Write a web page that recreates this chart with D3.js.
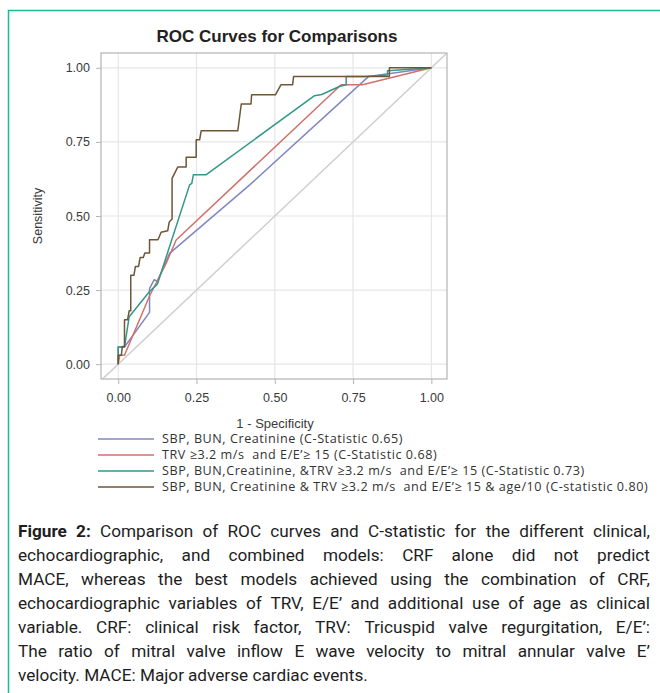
<!DOCTYPE html>
<html>
<head>
<meta charset="utf-8">
<script src="https://cdn.jsdelivr.net/npm/d3@7"></script>
<style>
  body { margin: 0; background: #fff; }
  svg { display: block; }
  text { white-space: pre; }
</style>
</head>
<body>
<div id="chart"></div>
<script>

// values
const ticks = [0, 0.25, 0.5, 0.75, 1]

const labels = [
    'SBP, BUN, Creatinine (C-Statistic 0.65)',
    'TRV \u22653.2 m/s  and E/E\u2019\u2265 15 (C-Statistic 0.68)',
    'SBP, BUN,Creatinine, &TRV \u22653.2 m/s  and E/E\u2019\u2265 15 (C-Statistic 0.73)',
    'SBP, BUN, Creatinine & TRV \u22653.2 m/s  and E/E\u2019\u2265 15 & age/10 (C-statistic 0.80)'
]

const colors = ['#8087c2', '#d0716a', '#33978a', '#6e5638']

// [1 - specificity, sensitivity]
const crfRoc = [[0,0],[0,0.058],[0.02,0.058],[0.1,0.175],[0.1,0.255],[0.115,0.285],[0.125,0.28],
    [0.164,0.374],[0.42,0.605],[0.8,0.971],[1,1]]

const echoRoc = [[0,0],[0.005,0.03],[0.02,0.03],[0.1,0.23],[0.126,0.284],[0.153,0.34],[0.185,0.419],
    [0.712,0.943],[0.78,0.943],[1,1]]

const comboRoc = [[0,0],[0,0.058],[0.02,0.058],[0.035,0.16],[0.1,0.245],[0.125,0.27],[0.228,0.605],
    [0.235,0.61],[0.24,0.639],[0.28,0.639],[0.627,0.906],[0.65,0.91],[0.706,0.937],[0.728,0.943],
    [0.728,0.971],[0.79,0.971],[0.86,0.976],[0.86,0.99],[1,1]]

const ageRoc = [[0,0],[0,0.03],[0.01,0.03],[0.013,0.06],[0.02,0.06],[0.02,0.15],[0.03,0.15],[0.035,0.18],
    [0.04,0.18],[0.04,0.3],[0.05,0.3],[0.055,0.33],[0.065,0.33],[0.07,0.36],[0.08,0.36],[0.085,0.375],
    [0.1,0.375],[0.1,0.42],[0.127,0.42],[0.137,0.445],[0.158,0.45],[0.163,0.48],[0.172,0.49],
    [0.172,0.627],[0.19,0.665],[0.217,0.665],[0.217,0.698],[0.249,0.698],[0.249,0.757],[0.26,0.757],
    [0.265,0.788],[0.382,0.788],[0.393,0.878],[0.424,0.878],[0.426,0.909],[0.502,0.909],[0.52,0.943],
    [0.557,0.943],[0.56,0.971],[0.866,0.971],[0.866,1],[1,1]]

const captionLines = [
    'Figure 2: Comparison of ROC curves and C-statistic for the different clinical,',
    'echocardiographic, and combined models: CRF alone did not predict',
    'MACE, whereas the best models achieved using the combination of CRF,',
    'echocardiographic variables of TRV, E/E\u2019 and additional use of age as clinical',
    'variable. CRF: clinical risk factor, TRV: Tricuspid valve regurgitation, E/E\u2019:',
    'The ratio of mitral valve inflow E wave velocity to mitral annular valve E\u2019',
    'velocity. MACE: Major adverse cardiac events.'
]

const width = 660
const height = 693

const svg = d3.select('#chart')
    .append('svg')
    .attr('width', width)
    .attr('height', height)

// teal frame round the whole figure
svg.append('rect')
    .attr('x', 8.5).attr('y', 10.5)
    .attr('width', 700).attr('height', 720)
    .attr('fill', 'none')
    .attr('stroke', '#19b99a')
    .attr('stroke-width', 1.5)

const frame = { left: 101, right: 447, top: 53, bottom: 379 }

const x = d3.scaleLinear().domain([-0.055, 1.05]).range([frame.left, frame.right])
const y = d3.scaleLinear().domain([-0.05, 1.05]).range([frame.bottom, frame.top])

svg.append('clipPath').attr('id', 'clip')
    .append('rect')
    .attr('x', frame.left).attr('y', frame.top)
    .attr('width', frame.right - frame.left).attr('height', frame.bottom - frame.top)

// grid
const grid = svg.append('g')
grid.selectAll('.gx').data(ticks).join('line')
    .attr('x1', d => x(d)).attr('x2', d => x(d))
    .attr('y1', frame.top).attr('y2', frame.bottom)
    .attr('stroke', '#e6e6e6').attr('stroke-width', 1.2)
grid.selectAll('.gy').data(ticks).join('line')
    .attr('y1', d => y(d)).attr('y2', d => y(d))
    .attr('x1', frame.left).attr('x2', frame.right)
    .attr('stroke', '#e6e6e6').attr('stroke-width', 1.2)

// reference diagonal
svg.append('line')
    .attr('clip-path', 'url(#clip)')
    .attr('x1', x(-0.06)).attr('y1', y(-0.06))
    .attr('x2', x(1.06)).attr('y2', y(1.06))
    .attr('stroke', '#cfcfcf')
    .attr('stroke-width', 1.5)

// curves
const line = d3.line().x(d => x(d[0])).y(d => y(d[1]))
const curves = [crfRoc, echoRoc, comboRoc, ageRoc]

svg.append('g')
    .attr('clip-path', 'url(#clip)')
    .selectAll('path')
    .data(curves)
    .join('path')
    .attr('fill', 'none')
    .attr('stroke', (d, i) => colors[i])
    .attr('stroke-width', 1.5)
    .attr('stroke-linejoin', 'round')
    .attr('d', line)

svg.append('rect')
    .attr('x', frame.left).attr('y', frame.top)
    .attr('width', frame.right - frame.left).attr('height', frame.bottom - frame.top)
    .attr('fill', 'none')
    .attr('stroke', '#b4b4b4')
    .attr('stroke-width', 1.2)

// axes
const xAxis = svg.append('g')
    .attr('transform', `translate(0,${frame.bottom})`)
    .call(d3.axisBottom(x).tickValues(ticks).tickFormat(d3.format('.2f')).tickSize(5).tickPadding(9))
const yAxis = svg.append('g')
    .attr('transform', `translate(${frame.left},0)`)
    .call(d3.axisLeft(y).tickValues(ticks).tickFormat(d3.format('.2f')).tickSize(5).tickPadding(6))

;[xAxis, yAxis].forEach(a => {
    a.select('.domain').remove()
    a.selectAll('line').attr('stroke', '#b4b4b4')
    a.selectAll('text')
        .attr('fill', '#3a3a3a')
        .style('font-family', 'Liberation Sans, Arial, sans-serif')
        .style('font-size', '12.5px')
})

svg.append('text')
    .attr('x', 277).attr('y', 42)
    .attr('text-anchor', 'middle')
    .style('font-family', 'Liberation Sans, Arial, sans-serif')
    .style('font-size', '17px')
    .style('font-weight', 'bold')
    .attr('fill', '#222')
    .text('ROC Curves for Comparisons')

svg.append('text')
    .attr('x', 275).attr('y', 428)
    .attr('text-anchor', 'middle')
    .style('font-family', 'Liberation Sans, Arial, sans-serif')
    .style('font-size', '13px')
    .attr('fill', '#3a3a3a')
    .text('1 - Specificity')

svg.append('text')
    .attr('transform', `translate(42,216) rotate(-90)`)
    .attr('text-anchor', 'middle')
    .style('font-family', 'Liberation Sans, Arial, sans-serif')
    .style('font-size', '12.5px')
    .attr('fill', '#3a3a3a')
    .text('Sensitivity')

// legend
const legend = svg.append('g')
    .selectAll('g')
    .data(labels)
    .join('g')
    .attr('transform', (d, i) => `translate(0,${439 + i * 16})`)

legend.append('line')
    .attr('x1', 98).attr('x2', 154)
    .attr('stroke', (d, i) => colors[i])
    .attr('stroke-width', 1.5)

legend.append('text')
    .attr('x', 162).attr('y', 4)
    .style('font-family', 'Open Sans, sans-serif')
    .style('font-size', '12.6px')
    .style('letter-spacing', '0.55px')
    .attr('fill', '#333')
    .text(d => d)

// caption, lines justified by spreading the words
const capLeft = 18
const capWidth = 632

const cap = svg.append('g')
    .style('font-family', 'Roboto, sans-serif')
    .style('font-size', '17.2px')
    .attr('fill', '#1e1e1e')

cap.selectAll('text')
    .data(captionLines)
    .join('text')
    .attr('y', (d, i) => 537 + i * 24)
    .each(function (d, i) {
        const t = d3.select(this)
        const words = d.split(' ')
        const spans = words.map((w, j) => t.append('tspan')
            .style('font-weight', i === 0 && j < 2 ? 'bold' : null)
            .text(w))
        const widths = spans.map(s => s.node().getComputedTextLength())
        const total = d3.sum(widths)
        const last = i === captionLines.length - 1
        const gap = last ? 4.3 : (capWidth - total) / (words.length - 1)
        let pos = capLeft
        spans.forEach((s, j) => {
            s.attr('x', pos)
            pos += widths[j] + gap
        })
    })

</script>
</body>
</html>
